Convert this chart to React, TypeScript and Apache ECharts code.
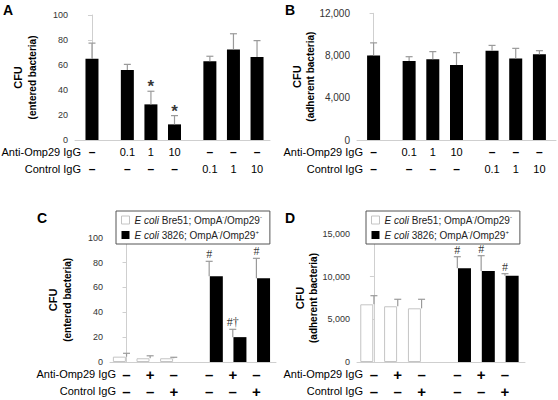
import React, { useEffect, useRef } from "react";
import * as echarts from "echarts";

const FONT = '"Liberation Sans", Arial, Helvetica, sans-serif';
const SERIF = '"Liberation Serif", "Times New Roman", serif';

// ---------- data ----------
const posAB = [0, 1.5, 2.5, 3.5, 5, 6, 7];
const antiAB = ["–", "0.1", "1", "10", "–", "–", "–"];
const ctrlAB = ["–", "–", "–", "–", "0.1", "1", "10"];

const valuesA = [65, 56, 28.5, 12.5, 63, 72.5, 66.5];
const errTopA = [77.5, 60.5, 39, 19.5, 67, 85, 79.5];
const annA = ["", "", "*", "*", "", "", ""];

const valuesB = [8000, 7480, 7640, 7100, 8460, 7730, 8110];
const errTopB = [9200, 7890, 8370, 8270, 8960, 8680, 8460];

const posWhite = [0, 1, 2];
const posBlack = [3.5, 4.5, 5.5];
const posCD = [0, 1, 2, 3.5, 4.5, 5.5];
const antiCD = ["–", "+", "–", "–", "+", "–"];
const ctrlCD = ["–", "–", "+", "–", "–", "+"];

const whiteC = [4.3, 3, 3];
const whiteErrC = [7, 5, 3.8];
const blackC = [69, 20, 67.3];
const blackErrC = [81, 26.3, 83.4];
const annBlackC = ["#", "#†", "#"];

const whiteD = [6760, 6530, 6290];
const whiteErrD = [7770, 7350, 7350];
const blackD = [10980, 10660, 10120];
const blackErrD = [12340, 12460, 10350];
const annBlackD = ["#", "#", "#"];

const legendNames = ["bre51", "e3826"];
const legendRich: Record<string, string> = {
  bre51: "{i|E coli} Bre51; OmpA{s|-}/Omp29{s|-}",
  e3826: "{i|E coli} 3826; OmpA{s|-}/Omp29{s|+}",
};

// ---------- layout ----------
type Panel = {
  letter: string;
  left: number;
  top: number;
  right: number;
  bottom: number;
  xMin: number;
  xMax: number;
  yMax: number;
  yInterval: number;
  yFont: number;
  yName: string;
  nameGap: number;
  anti: string[];
  ctrl: string[];
  pos: number[];
  symSize: number;
  letterX: number;
  letterY: number;
};

const panels: Panel[] = [
  { letter: "A", left: 75, top: 15, right: 270, bottom: 140, xMin: -0.72, xMax: 7.55, yMax: 100, yInterval: 20, yFont: 9, yName: "entered", nameGap: 36, anti: antiAB, ctrl: ctrlAB, pos: posAB, symSize: 12, letterX: 3, letterY: 3 },
  { letter: "B", left: 357, top: 13.3, right: 556, bottom: 140, xMin: -0.7, xMax: 7.7, yMax: 12000, yInterval: 4000, yFont: 10, yName: "adherent", nameGap: 35, anti: antiAB, ctrl: ctrlAB, pos: posAB, symSize: 12, letterX: 285, letterY: 3 },
  { letter: "C", left: 110, top: 237.7, right: 276, bottom: 362, xMin: -0.7, xMax: 6.33, yMax: 100, yInterval: 20, yFont: 9, yName: "entered", nameGap: 36, anti: antiCD, ctrl: ctrlCD, pos: posCD, symSize: 15, letterX: 37, letterY: 211 },
  { letter: "D", left: 357, top: 234, right: 525, bottom: 362, xMin: -0.71, xMax: 6.34, yMax: 15000, yInterval: 5000, yFont: 9, yName: "adherent", nameGap: 33, anti: antiCD, ctrl: ctrlCD, pos: posCD, symSize: 15, letterX: 285, letterY: 211 },
];

function fmtThousands(v: number) {
  return v >= 1000 ? v.toLocaleString("en-US") : String(v);
}

function labelFormatter(labels: string[], pos: number[]) {
  return (v: number) => {
    const i = pos.findIndex((p) => Math.abs(p - v) < 1e-6);
    const s = i >= 0 ? labels[i] : "";
    if (s === "–" || s === "+") return `{b|${s}}`;
    return `{n|${s}}`;
  };
}

function errRender(tops: number[]) {
  return (params: any, api: any) => {
    const x = api.value(0);
    const v = api.value(1);
    const i = params.dataIndex;
    const p0 = api.coord([x, v]);
    const p1 = api.coord([x, tops[i]]);
    const stroke = { stroke: "#9a9a9a", lineWidth: 1.2, fill: null };
    return {
      type: "group",
      children: [
        { type: "line", shape: { x1: p0[0], y1: p0[1], x2: p1[0], y2: p1[1] }, style: stroke },
        { type: "line", shape: { x1: p1[0] - 3.5, y1: p1[1], x2: p1[0] + 3.5, y2: p1[1] }, style: stroke },
      ],
    };
  };
}

function errSeries(xAxisIndex: number, yAxisIndex: number, pos: number[], vals: number[], tops: number[]) {
  return {
    type: "custom",
    xAxisIndex,
    yAxisIndex,
    z: 4,
    clip: false,
    itemStyle: { color: "#9a9a9a" },
    data: pos.map((p, i) => [p, vals[i]]),
    renderItem: errRender(tops),
    silent: true,
  };
}

// significance marks, placed at the top of each error bar
function annSeries(xAxisIndex: number, yAxisIndex: number, pos: number[], tops: number[], ann: string[]) {
  const star = ann.some((a) => a === "*");
  return {
    type: "scatter",
    xAxisIndex,
    yAxisIndex,
    z: 5,
    symbolSize: 0,
    silent: true,
    clip: false,
    itemStyle: { color: "#000000" },
    data: pos
      .map((p, i) => ({ value: [p, tops[i]], ann: ann[i] }))
      .filter((d) => d.ann)
      .map((d) => ({ value: d.value, label: { formatter: d.ann } })),
    label: {
      show: true,
      position: "top",
      distance: star ? -4 : 2,
      color: "#000000",
      fontSize: star ? 17 : 12,
      lineHeight: star ? 17 : 10,
      fontWeight: star ? "bold" : "normal",
      fontFamily: star ? FONT : SERIF,
    },
  };
}

function barSeries(name: string, xAxisIndex: number, yAxisIndex: number, pos: number[], vals: number[], white: boolean) {
  return {
    type: "bar",
    name,
    xAxisIndex,
    yAxisIndex,
    z: 3,
    barWidth: 13,
    data: pos.map((p, i) => [p, vals[i]]),
    itemStyle: white
      ? { color: "#ffffff", borderColor: "#c4c4c4", borderWidth: 1 }
      : { color: "#000000" },
    silent: true,
  };
}

export default function App() {
  const ref = useRef<HTMLDivElement>(null);

  useEffect(() => {
    if (!ref.current) return;
    const chart = echarts.init(ref.current, undefined, { renderer: "svg" });

    const grid: any[] = [];
    const xAxis: any[] = [];
    const yAxis: any[] = [];
    const graphic: any[] = [];

    panels.forEach((p, gi) => {
      grid.push({ left: p.left, top: p.top, width: p.right - p.left, height: p.bottom - p.top });
      const rich = {
        b: { fontWeight: "bold", fontSize: p.symSize, lineHeight: 14, color: "#000", fontFamily: FONT },
        n: { fontSize: 11, lineHeight: 14, color: "#000", fontFamily: FONT },
      };
      xAxis.push({
        type: "value",
        gridIndex: gi,
        min: p.xMin,
        max: p.xMax,
        splitLine: { show: false },
        axisLine: { show: true, lineStyle: { color: "#cfcfcf", width: 1 } },
        axisTick: { show: false },
        axisLabel: { customValues: p.pos, margin: 5, formatter: labelFormatter(p.anti, p.pos), rich },
      });
      yAxis.push({
        type: "value",
        gridIndex: gi,
        min: 0,
        max: p.yMax,
        interval: p.yInterval,
        splitLine: { show: false },
        axisLine: { show: true, lineStyle: { color: "#cfcfcf", width: 1 } },
        axisTick: { show: true, length: 4, lineStyle: { color: "#cfcfcf" } },
        axisLabel: { fontSize: p.yFont, color: "#333", fontFamily: FONT, margin: 7, formatter: fmtThousands },
        name: `{a|CFU}\n{b|(${p.yName} bacteria)}`,
        nameLocation: "middle",
        nameRotate: 90,
        nameGap: p.nameGap,
        nameTextStyle: {
          rich: {
            a: { fontSize: 11, fontWeight: "bold", fontFamily: FONT, color: "#000", lineHeight: 14 },
            b: { fontSize: 10, fontWeight: "bold", fontFamily: FONT, color: "#000", lineHeight: 14 },
          },
        },
      });
      graphic.push({
        type: "text",
        left: p.letterX,
        top: p.letterY,
        style: { text: p.letter, font: `bold 14px ${FONT}`, fill: "#000" },
      });
      graphic.push({
        type: "text",
        x: p.left + 6,
        y: p.bottom + 12,
        style: { text: "Anti-Omp29 IgG", font: `11px ${FONT}`, fill: "#000", align: "right", verticalAlign: "middle" },
      });
      graphic.push({
        type: "text",
        x: p.left + 6,
        y: p.bottom + 29,
        style: { text: "Control IgG", font: `11px ${FONT}`, fill: "#000", align: "right", verticalAlign: "middle" },
      });
    });

    // secondary x axes (control IgG row)
    panels.forEach((p, gi) => {
      const rich = {
        b: { fontWeight: "bold", fontSize: p.symSize, lineHeight: 14, color: "#000", fontFamily: FONT },
        n: { fontSize: 11, lineHeight: 14, color: "#000", fontFamily: FONT },
      };
      xAxis.push({
        type: "value",
        gridIndex: gi,
        position: "bottom",
        offset: 17,
        min: p.xMin,
        max: p.xMax,
        splitLine: { show: false },
        axisLine: { show: false },
        axisTick: { show: false },
        axisLabel: { customValues: p.pos, margin: 5, formatter: labelFormatter(p.ctrl, p.pos), rich },
      });
    });

    const series: any[] = [
      errSeries(0, 0, posAB, valuesA, errTopA),
      barSeries("a", 0, 0, posAB, valuesA, false),
      annSeries(0, 0, posAB, errTopA, annA),
      errSeries(1, 1, posAB, valuesB, errTopB),
      barSeries("b", 1, 1, posAB, valuesB, false),
      errSeries(2, 2, posWhite, whiteC, whiteErrC),
      errSeries(2, 2, posBlack, blackC, blackErrC),
      barSeries("bre51", 2, 2, posWhite, whiteC, true),
      barSeries("e3826", 2, 2, posBlack, blackC, false),
      annSeries(2, 2, posBlack, blackErrC, annBlackC),
      errSeries(3, 3, posWhite, whiteD, whiteErrD),
      errSeries(3, 3, posBlack, blackD, blackErrD),
      barSeries("bre51", 3, 3, posWhite, whiteD, true),
      barSeries("e3826", 3, 3, posBlack, blackD, false),
      annSeries(3, 3, posBlack, blackErrD, annBlackD),
    ];

    const legendData = [
      { name: legendNames[0], itemStyle: { color: "#ffffff", borderColor: "#c4c4c4", borderWidth: 1 } },
      { name: legendNames[1], itemStyle: { color: "#000000" } },
    ];
    const legendCommon = {
      orient: "vertical",
      data: legendData,
      icon: "rect",
      itemWidth: 8,
      itemHeight: 8,
      itemGap: 3,
      padding: [3, 8, 3, 5],
      borderColor: "#555",
      borderWidth: 1,
      backgroundColor: "#fff",
      selectedMode: false,
      formatter: (n: string) => legendRich[n] ?? n,
      textStyle: {
        fontSize: 10,
        lineHeight: 12,
        color: "#222",
        fontFamily: FONT,
        rich: {
          i: { fontStyle: "italic", fontSize: 10, lineHeight: 12, fontFamily: FONT, color: "#222" },
          s: { fontSize: 6, lineHeight: 12, fontFamily: FONT, color: "#222", verticalAlign: "top", padding: [0, 0, 4, 0] },
        },
      },
    };

    chart.setOption({
      animation: false,
      backgroundColor: "#ffffff",
      textStyle: { fontFamily: FONT },
      grid,
      xAxis,
      yAxis,
      series,
      graphic,
      legend: [
        { ...legendCommon, left: 116, top: 211 },
        { ...legendCommon, left: 366, top: 211 },
      ],
    });

    return () => chart.dispose();
  }, []);

  return (
    <div
      ref={ref}
      style={{ position: "absolute", left: 0, top: 0, width: 558, height: 400 }}
    />
  );
}
